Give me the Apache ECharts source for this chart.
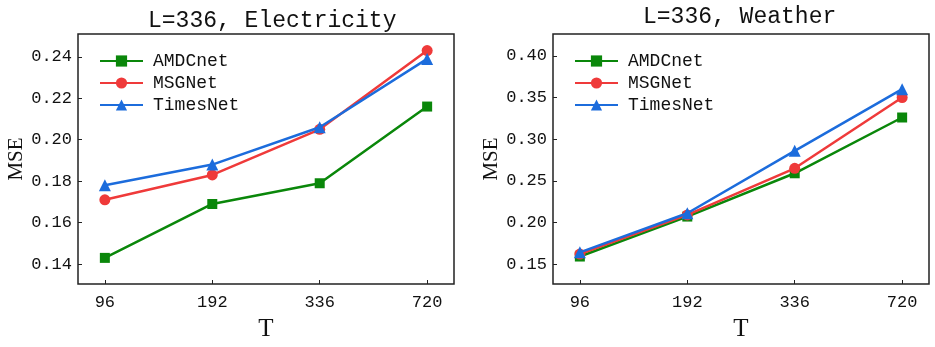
<!DOCTYPE html>
<html><head><meta charset="utf-8">
<script src="https://cdn.jsdelivr.net/npm/echarts@6/dist/echarts.min.js"></script>
<style>html,body{margin:0;padding:0;background:#fff}#c{width:935px;height:347px}</style>
</head><body><div id="c"></div>
<script>
const categories = ['96', '192', '336', '720'];
const seriesNames = ['AMDCnet', 'MSGNet', 'TimesNet'];
const elecAMDCnet = [0.143, 0.169, 0.179, 0.216];
const elecMSGNet = [0.171, 0.183, 0.205, 0.243];
const elecTimesNet = [0.178, 0.188, 0.206, 0.239];
const weatherAMDCnet = [0.159, 0.207, 0.259, 0.326];
const weatherMSGNet = [0.162, 0.209, 0.265, 0.350];
const weatherTimesNet = [0.164, 0.211, 0.286, 0.360];
const elecTicks = [0.14, 0.16, 0.18, 0.20, 0.22, 0.24];
const weatherTicks = [0.15, 0.20, 0.25, 0.30, 0.35, 0.40];
const titles = ['L=336, Electricity', 'L=336, Weather'];

const colors = ['#0a870a', '#ef3a3a', '#1c6cdc'];
const symbols = ['rect', 'circle', 'triangle'];
const symSizes = [10, 11, 12];
const mono = 'Liberation Mono';
const serif = 'Liberation Serif';
const idx = categories.map((c, i) => i);

function mk(vals, i, g) {
  return {
    name: seriesNames[i], type: 'line', xAxisIndex: g, yAxisIndex: g,
    data: vals.map((v, k) => [k, v]),
    symbol: symbols[i], symbolSize: symSizes[i],
    lineStyle: { color: colors[i], width: 2.5 },
    itemStyle: { color: colors[i] },
    z: 2 + i, animation: false
  };
}
function xAx(g) {
  return {
    type: 'value', gridIndex: g, min: -0.25, max: 3.25,
    name: 'T', nameLocation: 'middle', nameGap: 33,
    nameTextStyle: { fontFamily: serif, fontSize: 25, color: '#111' },
    axisLine: { show: false, onZero: false }, splitLine: { show: false },
    axisTick: { inside: true, length: 4, lineStyle: { color: '#222', width: 1 }, customValues: idx },
    axisLabel: { customValues: idx, margin: 10, fontFamily: mono, fontSize: 17, color: '#111',
      formatter: v => categories[Math.round(v)] }
  };
}
function yAx(g, ticks, mn, mx) {
  return {
    type: 'value', gridIndex: g, min: mn, max: mx,
    name: 'MSE', nameLocation: 'middle', nameGap: 51, nameRotate: 90,
    nameTextStyle: { fontFamily: serif, fontSize: 21, color: '#111' },
    axisLine: { show: false, onZero: false }, splitLine: { show: false },
    axisTick: { inside: true, length: 4, lineStyle: { color: '#222', width: 1 }, customValues: ticks },
    axisLabel: { customValues: ticks, margin: 6, fontFamily: mono, fontSize: 17, color: '#111',
      formatter: v => v.toFixed(2) }
  };
}
function leg(left) {
  return {
    left: left, top: 47, orient: 'vertical', itemWidth: 43, itemHeight: 14, itemGap: 4,
    data: seriesNames,
    textStyle: { fontFamily: mono, fontSize: 18, color: '#111', padding: [0, 0, 0, 5] }
  };
}
const option = {
  animation: false,
  backgroundColor: '#fff',
  title: [
    { text: titles[0], left: 143, top: 4, textStyle: { fontFamily: mono, fontSize: 23, fontWeight: 'normal', color: '#111' } },
    { text: titles[1], left: 638, top: 0, textStyle: { fontFamily: mono, fontSize: 23, fontWeight: 'normal', color: '#111' } }
  ],
  grid: [
    { left: 78, right: 481, top: 34, bottom: 62, show: true, borderColor: '#222', borderWidth: 1.5, backgroundColor: 'transparent' },
    { left: 553, right: 6, top: 34, bottom: 62, show: true, borderColor: '#222', borderWidth: 1.5, backgroundColor: 'transparent' }
  ],
  legend: [leg(94), leg(569)],
  xAxis: [xAx(0), xAx(1)],
  yAxis: [yAx(0, elecTicks, 0.1304, 0.251), yAx(1, weatherTicks, 0.126, 0.4263)],
  series: [
    mk(elecAMDCnet, 0, 0), mk(elecMSGNet, 1, 0), mk(elecTimesNet, 2, 0),
    mk(weatherAMDCnet, 0, 1), mk(weatherMSGNet, 1, 1), mk(weatherTimesNet, 2, 1)
  ]
};
const chart = echarts.init(document.getElementById('c'), null, { renderer: 'canvas' });
chart.setOption(option);
</script></body></html>
